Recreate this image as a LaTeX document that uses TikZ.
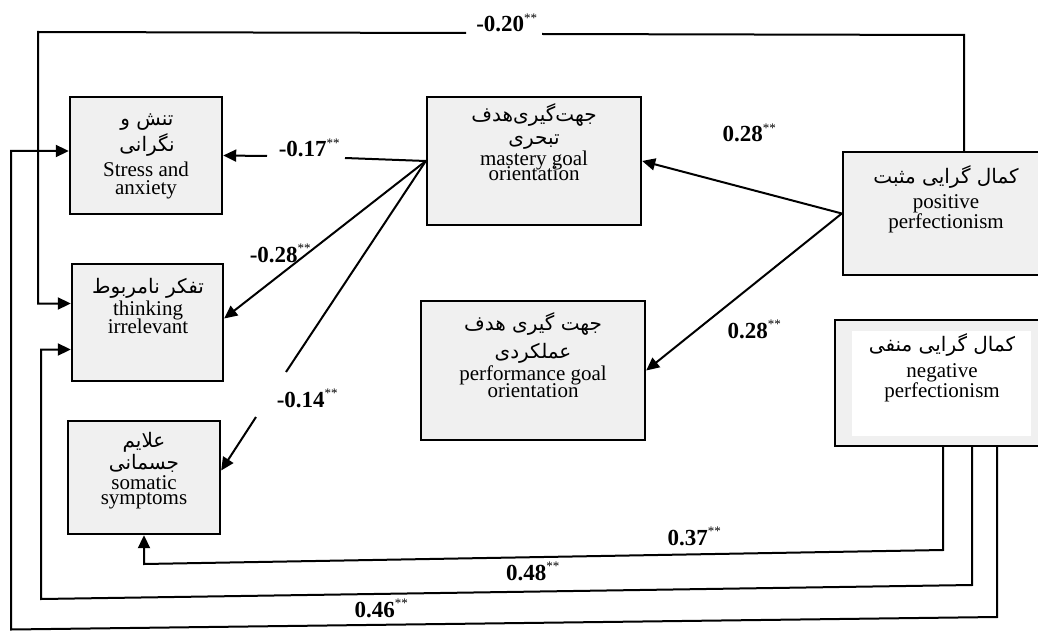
\documentclass[tikz,border=0pt]{standalone}
\usepackage{fontspec}
\setmainfont{Liberation Serif}
\newfontfamily\fa[Script=Arabic]{DejaVu Sans}
\TeXXeTstate=1
\usetikzlibrary{arrows.meta}
\definecolor{boxgray}{RGB}{240,240,240}
\begin{document}
\begin{tikzpicture}[x=1pt,y=-1pt,
  box/.style={draw=black,line width=2.4pt,fill=boxgray,rectangle,inner sep=0pt},
  en/.style={anchor=base,inner sep=0pt,font=\fontsize{21}{21}\selectfont},
  fatxt/.style={anchor=base,inner sep=0pt,font=\fa\fontsize{20}{20}\selectfont},
  conn/.style={line width=2pt},
  arr/.style={conn,-{Triangle[length=13pt,width=12pt]}},
  lab/.style={anchor=base,inner sep=0pt,font=\fontsize{23}{23}\selectfont\bfseries}]
\newcommand\stars{\textsuperscript{\fontsize{13}{13}\selectfont\normalfont **}}
\clip (0,0) rectangle (1038,631);
\fill[white] (0,0) rectangle (1038,631);
% boxes
\node[box, minimum width=152pt, minimum height=117pt] (str)  at (146,155.5) {};
\node[box, minimum width=151pt, minimum height=117pt] (thin) at (147.5,322.5) {};
\node[box, minimum width=152pt, minimum height=113pt] (som)  at (144,477.5) {};
\node[box, minimum width=214pt, minimum height=128pt] (mast) at (534,161) {};
\node[box, minimum width=224pt, minimum height=139pt] (perf) at (533,370.5) {};
\node[box, minimum width=197pt, minimum height=123pt] (pos)  at (941.5,213.5) {};
\node[box, minimum width=205pt, minimum height=126pt] (neg)  at (937.5,383) {};
\fill[white] (852,331) rectangle (1031,436);
% texts
\node[fatxt] (str1) at (147,126) {\beginR تنش و\endR};
\node[fatxt] (str2) at (147,152) {\beginR نگرانی\endR};
\node[en] (str3) at (146,177) {Stress and};
\node[en] (str4) at (146,194) {anxiety};
\node[fatxt] (mast1) at (534,122) {\beginR جهت‌گیری‌هدف\endR};
\node[fatxt] (mast2) at (534,145) {\beginR تبحری\endR};
\node[en] (mast3) at (534,166) {mastery goal};
\node[en] (mast4) at (534,181) {orientation};
\node[fatxt] (pos1) at (946,184) {\beginR کمال گرایی مثبت\endR};
\node[en] (pos2) at (946,208) {positive};
\node[en] (pos3) at (946,228) {perfectionism};
\node[fatxt] (thin1) at (148,293) {\beginR تفکر نامربوط\endR};
\node[en] (thin2) at (148,315) {thinking};
\node[en] (thin3) at (148,333) {irrelevant};
\node[fatxt] (som1) at (144,447) {\beginR علایم\endR};
\node[fatxt] (som2) at (144,469) {\beginR جسمانی\endR};
\node[en] (som3) at (144,489) {somatic};
\node[en] (som4) at (144,504) {symptoms};
\node[fatxt] (perf1) at (533,330) {\beginR جهت گیری هدف\endR};
\node[fatxt] (perf2) at (533,358) {\beginR عملکردی\endR};
\node[en] (perf3) at (533,380) {performance goal};
\node[en] (perf4) at (533,397) {orientation};
\node[fatxt] (neg1) at (942,351) {\beginR کمال گرایی منفی\endR};
\node[en] (neg2) at (942,377) {negative};
\node[en] (neg3) at (942,397) {perfectionism};
% connectors
\draw[arr] (pos.west) -- (mast.east);
\draw[arr] (pos.west) -- (perf.east);
\coordinate (g17a) at (345,158);
\coordinate (g17b) at (267,156);
\draw[conn] (mast.west) -- (g17a);
\draw[arr] (g17b) -- (str.east);
\draw[arr] (mast.west) -- ([yshift=4pt]thin.east);
\coordinate (g14a) at (286,372);
\coordinate (g14b) at (256,417);
\draw[conn] (mast.west) -- (g14a);
\draw[arr] (g14b) -- ([yshift=7pt]som.east);
\coordinate (t1) at (964,35);
\coordinate (t2) at (542,34);
\coordinate (t3) at (466,33);
\coordinate (t4) at (38,32);
\draw[conn] (pos.north -| t1) -- (t1) -- (t2);
\draw[arr] (t3) -- (t4) |- ([yshift=19pt]thin.west);
\coordinate (b1) at (943,550);
\coordinate (b2) at (144,564);
\draw[arr] (neg.south -| b1) -- (b1) -- (b2) -- (som.south);
\coordinate (c1) at (972,585);
\coordinate (c2) at (41,599);
\draw[arr] (neg.south -| c1) -- (c1) -- (c2) |- ([yshift=-27pt]thin.west);
\coordinate (d1) at (997,617);
\coordinate (d2) at (11,629.5);
\draw[arr] (neg.south -| d1) -- (d1) -- (d2) |- ([yshift=4.5pt]str.west);
% labels
\node[lab] (l20) at (507,32) {-0.20\stars};
\node[lab] (l17) at (309.5,157) {-0.17\stars};
\node[lab] (l28a) at (280.5,262) {-0.28\stars};
\node[lab] (l14) at (307.5,407) {-0.14\stars};
\node[lab] (l28b) at (749.5,142) {0.28\stars};
\node[lab] (l28c) at (754.5,338) {0.28\stars};
\node[lab] (l37) at (694.5,545) {0.37\stars};
\node[lab] (l48) at (533,580) {0.48\stars};
\node[lab] (l46) at (381.5,617) {0.46\stars};
\end{tikzpicture}
\end{document}
